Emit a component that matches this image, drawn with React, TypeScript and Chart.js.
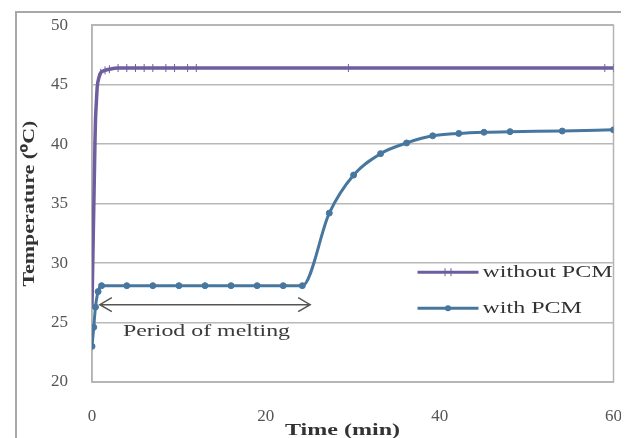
import React, { useEffect, useRef } from "react";
import { Chart, registerables } from "chart.js";

Chart.register(...registerables);

// ---- data ----
const withoutTime = [0, 0.05, 0.1, 0.15, 0.2, 0.25, 0.3, 0.35, 0.4, 0.5, 0.6, 0.8, 1, 1.5, 2, 3, 4, 5, 6, 7, 8.5, 9.5, 11, 12, 29.5, 59, 60];
const withoutTemp = [26.5, 28.5, 30.5, 32.5, 34.5, 36.5, 38.5, 40.5, 42, 43.5, 44.8, 45.6, 46, 46.2, 46.3, 46.4, 46.4, 46.4, 46.4, 46.4, 46.4, 46.4, 46.4, 46.4, 46.4, 46.4, 46.4];
const withTime = [0, 0.2, 0.4, 0.7, 1.1, 4, 7, 10, 13, 16, 19, 22, 24.2, 27.3, 30.1, 33.2, 36.2, 39.2, 42.2, 45.1, 48.1, 54.1, 60];
const withTemp = [23, 24.6, 26.3, 27.6, 28.1, 28.1, 28.1, 28.1, 28.1, 28.1, 28.1, 28.1, 28.1, 34.2, 37.4, 39.2, 40.1, 40.7, 40.9, 41.0, 41.05, 41.1, 41.2];
const seriesNames = ["without PCM", "with PCM"];
const meltingPeriod = [0.9, 25.1];
const meltingArrowTemp = 26.5;
const meltingLabel = "Period of melting";
const xTitle = "Time (min)";
const yTitle = "Temperature (\u2070C)";
const xTicks = [0, 20, 40, 60];
const yRange = [20, 50];

const PURPLE = "#6e5e9f";
const BLUE = "#47779f";
const SERIF = "'Liberation Serif', 'Times New Roman', serif";

function drawStretched(ctx: CanvasRenderingContext2D, text: string, x: number, y: number, targetW: number, font: string, color: string) {
  ctx.save();
  ctx.font = font;
  ctx.fillStyle = color;
  ctx.textBaseline = "middle";
  ctx.textAlign = "left";
  const w = ctx.measureText(text).width;
  ctx.translate(x, y);
  ctx.scale(targetW / w, 1);
  ctx.fillText(text, 0, 0);
  ctx.restore();
}

const decor = {
  id: "decor",
  beforeDatasetsDraw(chart: any) {
    const { ctx, chartArea: a } = chart;
    ctx.save();
    ctx.strokeStyle = "#b4b4b4";
    ctx.lineWidth = 1.5;
    ctx.strokeRect(a.left, a.top, a.right - a.left, a.bottom - a.top);
    ctx.restore();
  },
  afterDraw(chart: any) {
    const { ctx, chartArea: a } = chart;
    const xs = chart.scales.x;
    const ys = chart.scales.y;

    // melting arrow
    const x1 = xs.getPixelForValue(meltingPeriod[0]);
    const x2 = xs.getPixelForValue(meltingPeriod[1]);
    const ay = ys.getPixelForValue(meltingArrowTemp);
    ctx.save();
    ctx.strokeStyle = "#555";
    ctx.lineWidth = 1.5;
    ctx.beginPath();
    ctx.moveTo(x1, ay);
    ctx.lineTo(x2, ay);
    ctx.moveTo(x1 + 12, ay - 7);
    ctx.lineTo(x1, ay);
    ctx.lineTo(x1 + 12, ay + 7);
    ctx.moveTo(x2 - 12, ay - 7);
    ctx.lineTo(x2, ay);
    ctx.lineTo(x2 - 12, ay + 7);
    ctx.stroke();
    ctx.restore();
    drawStretched(ctx, meltingLabel, a.left + 31, ay + 27, 167, `17px ${SERIF}`, "#3a3a3a");

    // legend
    const colors = [PURPLE, BLUE];
    const ly = [a.top + 247, a.top + 283];
    const lx0 = a.right - 196;
    const lx1 = a.right - 135;
    ctx.save();
    ctx.font = `17px ${SERIF}`;
    const sx = 130 / ctx.measureText(seriesNames[0]).width;
    ctx.restore();
    seriesNames.forEach((name, i) => {
      ctx.save();
      ctx.strokeStyle = colors[i];
      ctx.lineWidth = 3;
      ctx.beginPath();
      ctx.moveTo(lx0, ly[i]);
      ctx.lineTo(lx1, ly[i]);
      ctx.stroke();
      const mx = (lx0 + lx1) / 2;
      if (i === 0) {
        ctx.lineWidth = 1;
        ctx.beginPath();
        ctx.moveTo(mx - 3, ly[i] - 4);
        ctx.lineTo(mx - 3, ly[i] + 4);
        ctx.moveTo(mx + 3, ly[i] - 4);
        ctx.lineTo(mx + 3, ly[i] + 4);
        ctx.stroke();
      } else {
        ctx.fillStyle = colors[i];
        ctx.beginPath();
        ctx.arc(mx, ly[i], 3, 0, Math.PI * 2);
        ctx.fill();
      }
      ctx.font = `17px ${SERIF}`;
      const w = ctx.measureText(name).width * sx;
      ctx.restore();
      drawStretched(ctx, name, lx1 + 4, ly[i], w, `17px ${SERIF}`, "#333");
    });

    // axis titles
    drawStretched(ctx, xTitle, 277, a.bottom + 49, 115, `bold 16px ${SERIF}`, "#333");

    ctx.save();
    ctx.translate(22, (a.top + a.bottom) / 2);
    ctx.rotate(-Math.PI / 2);
    drawStretched(ctx, yTitle, -83, 0, 166, `bold 16px ${SERIF}`, "#333");
    ctx.restore();
  },
};

function LineChart() {
  const ref = useRef<HTMLCanvasElement>(null);
  useEffect(() => {
    if (!ref.current) return;
    const chart = new Chart(ref.current, {
      type: "line",
      data: {
        datasets: [
          {
            label: seriesNames[0],
            data: withoutTime.map((t, i) => ({ x: t, y: withoutTemp[i] })),
            borderColor: PURPLE,
            backgroundColor: PURPLE,
            borderWidth: 3.5,
            pointStyle: "line",
            pointRotation: 90,
            pointRadius: 4,
            pointBorderWidth: 1,
            cubicInterpolationMode: "monotone",
          },
          {
            label: seriesNames[1],
            data: withTime.map((t, i) => ({ x: t, y: withTemp[i] })),
            borderColor: BLUE,
            backgroundColor: BLUE,
            borderWidth: 3,
            pointStyle: "circle",
            pointRadius: 3,
            pointBorderWidth: 1,
            cubicInterpolationMode: "monotone",
          },
        ],
      },
      options: {
        animation: false,
        responsive: false,
        maintainAspectRatio: false,
        layout: { padding: { left: 0, top: 0, right: 16, bottom: 0 } },
        plugins: { legend: { display: false }, tooltip: { enabled: false } },
        scales: {
          x: {
            type: "linear",
            min: 0,
            max: 60,
            afterBuildTicks: (s: any) => {
              s.ticks = xTicks.map((v) => ({ value: v }));
            },
            afterFit: (s: any) => {
              s.height = 56;
            },
            grid: { display: false, drawTicks: false },
            border: { display: true, color: "#b4b4b4", width: 1.5 },
            ticks: { padding: 24, color: "#555", font: { family: SERIF, size: 17 } },
          },
          y: {
            min: yRange[0],
            max: yRange[1],
            afterFit: (s: any) => {
              s.width = 84;
            },
            grid: { color: "#b8b8b8", lineWidth: 1.5, drawTicks: false },
            border: { display: true, color: "#b4b4b4", width: 1.5 },
            ticks: { stepSize: 5, padding: 24, color: "#555", font: { family: SERIF, size: 17 } },
          },
        },
      },
      plugins: [decor],
    });
    return () => chart.destroy();
  }, []);
  return <canvas ref={ref} width={638} height={447} style={{ position: "absolute", left: 0, top: -17 }} />;
}

export default function App() {
  return (
    <div style={{ position: "relative", width: 621, height: 430, overflow: "hidden", background: "#fff" }}>
      <LineChart />
      <div
        style={{
          position: "absolute",
          left: 7,
          top: 3,
          width: 700,
          height: 600,
          border: "2px solid #a8a8a8",
          boxSizing: "border-box",
          pointerEvents: "none",
        }}
      />
    </div>
  );
}
